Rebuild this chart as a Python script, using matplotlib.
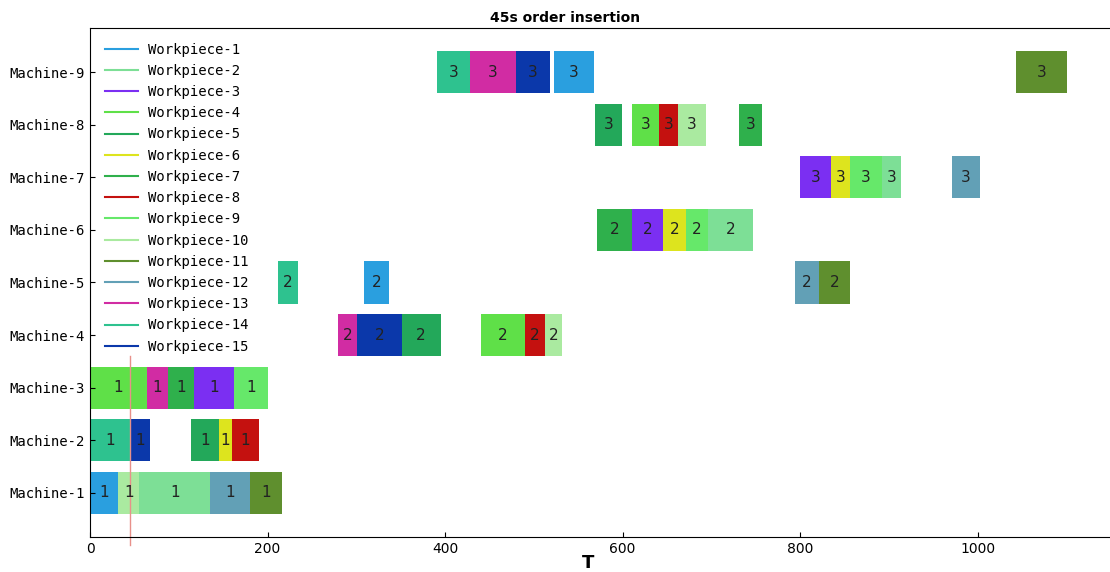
import matplotlib
matplotlib.use("Agg")
import matplotlib.pyplot as plt
from matplotlib.lines import Line2D

# schedule data: one entry per operation
machines = [1, 1, 1, 1, 1,
            2, 2, 2, 2, 2,
            3, 3, 3, 3, 3,
            4, 4, 4, 4, 4, 4,
            5, 5, 5, 5,
            6, 6, 6, 6, 6,
            7, 7, 7, 7, 7,
            8, 8, 8, 8, 8,
            9, 9, 9, 9, 9]
workpieces = [1, 10, 2, 12, 11,
              14, 15, 5, 6, 8,
              4, 13, 7, 3, 9,
              13, 15, 5, 4, 8, 10,
              14, 1, 12, 11,
              7, 3, 6, 9, 2,
              3, 6, 9, 2, 12,
              5, 4, 8, 10, 7,
              14, 13, 15, 1, 11]
ops = [1] * 15 + [2] * 15 + [3] * 15
starts = [0, 32, 55.5, 135.5, 180,
          0, 44.5, 114, 145, 160.5,
          0, 64, 88, 117, 162,
          279.5, 301, 351, 440, 490, 512.5,
          212, 309, 794.5, 821,
          571, 610.5, 646, 671, 696.5,
          800, 834.5, 856, 892, 971.5,
          568.5, 610.5, 641, 662.5, 731,
          391, 428.5, 480, 523, 1043]
ends = [32, 55.5, 135.5, 180, 216.5,
        44.5, 68, 145, 160.5, 190,
        64, 88, 117, 162, 201,
        301, 351, 395, 490, 512.5, 531.5,
        234.5, 336.5, 821, 856,
        610.5, 646, 671, 696.5, 746.5,
        834.5, 856, 892, 913.5, 1002.5,
        599.5, 641, 662.5, 693.5, 757.5,
        428.5, 480, 518, 568, 1101]
insert_time = 45

colors = {1: '#2a9fdf', 2: '#7ddf96', 3: '#7b2ff2', 4: '#5fe048', 5: '#23a85a',
          6: '#dde41e', 7: '#2fb04c', 8: '#c4110f', 9: '#66e86a', 10: '#aaeaa0',
          11: '#5f8f2e', 12: '#62a0b6', 13: '#d12ca3', 14: '#2ec28f', 15: '#0b38aa'}

fig = plt.figure(figsize=(11.1, 5.72), dpi=100)
ax = fig.add_axes([0.0811, 0.0612, 0.9243, 0.8899])

for m, w, o, s, e in zip(machines, workpieces, ops, starts, ends):
    ax.barh(m, e - s, left=s, height=0.8, color=colors[w])
    ax.text((s + e) / 2, m, str(o), ha='center', va='center', fontsize=11, color='#222222')

ax.plot([insert_time, insert_time], [0, 3.6], color='#e8908a', lw=1, clip_on=False)

ax.set_xlim(0, 1156)
ax.set_ylim(0.16, 9.84)
ax.set_yticks(range(1, 10))
ax.set_yticklabels(['Machine-%d' % i for i in range(1, 10)], family='DejaVu Sans Mono', fontsize=9.5)
ax.set_xticks([0, 200, 400, 600, 800, 1000])
ax.tick_params(direction='in', labelsize=10)
ax.set_xlabel('T', fontsize=13, fontweight='bold', x=0.485, labelpad=-1)
ax.set_title('45s order insertion', fontsize=10, fontweight='bold', x=0.463, pad=4)

handles = [Line2D([], [], color=colors[i], lw=1.5) for i in range(1, 16)]
ax.legend(handles, ['Workpiece-%d' % i for i in range(1, 16)], loc='upper left',
          frameon=False, prop={'family': 'DejaVu Sans Mono', 'size': 10},
          handlelength=2.4, handletextpad=0.7, labelspacing=0.52, borderaxespad=0.65)

fig.savefig('out.png', dpi=100)
